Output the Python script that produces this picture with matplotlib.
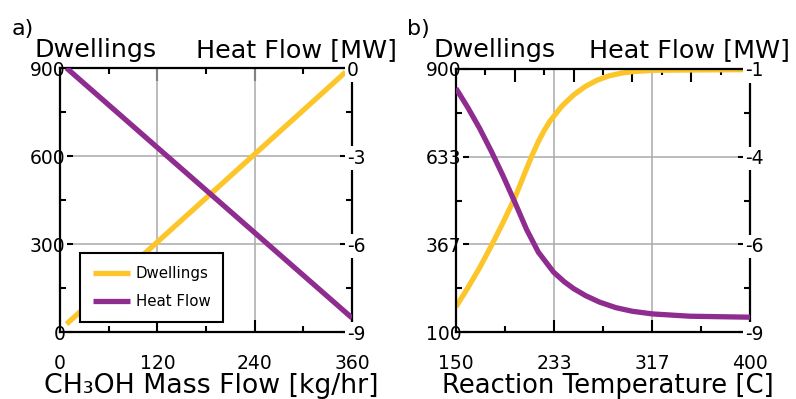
import matplotlib
matplotlib.use('Agg')
from matplotlib import pyplot as plt
from matplotlib import transforms
from matplotlib.ticker import FixedLocator, FixedFormatter, NullFormatter

plt.rcParams['font.family'] = ['DejaVu Sans']

YELLOW = '#fcc62a'
PURPLE = '#8e2c90'
GRID = '#a9a9a9'

# panel a: CH3OH mass flow sweep
flow_dw = [8, 352]
dwell_a = [27, 886]
flow_hf = [8, 360]
heat_a = [0.0, -8.52]

# panel b: reaction temperature sweep
temp_dw = [150, 160, 170, 180, 190, 200, 205, 210, 215, 220, 225, 230, 240, 250,
           260, 270, 280, 290, 300, 317, 349, 396]
dwell_b = [177, 234, 295, 362, 433, 508, 552, 597, 640, 679, 713, 742, 787, 821,
           847, 866, 879, 887, 892, 896, 897, 898]
temp_hf = [150, 160, 170, 180, 190, 200, 210, 220, 233, 242, 250, 260, 272, 286,
           300, 317, 349, 400]
heat_b = [-1.59, -2.17, -2.80, -3.50, -4.25, -5.05, -5.88, -6.57, -7.18, -7.47,
          -7.68, -7.89, -8.09, -8.26, -8.37, -8.45, -8.52, -8.55]

xt_a = [0, 120, 240, 360]
xt_a_minor = [60, 180, 300]
yt_a = [0, 300, 600, 900]
yt_a_minor = [150, 450, 750]
y2t_a = [-9, -6, -3, 0]
y2t_a_minor = [-7.5, -4.5, -1.5]

xt_b = [150, 233.33, 316.67, 400]
xl_b = ['150', '233', '317', '400']
xt_b_minor = [191.67, 275, 358.33]
yt_b = [100, 366.67, 633.33, 900]
yl_b = ['100', '367', '633', '900']
yt_b_minor = [233.33, 500, 766.67]
y2t_b = [-9, -6.333, -3.667, -1]
y2l_b = ['-9', '-6', '-4', '-1']
y2t_b_minor = [-7.667, -5, -2.333]

WHITE_BOX = dict(facecolor='white', edgecolor='none', pad=1.5)


def style(fig, ax, ax2, xlim, ylim, y2lim, xt, xl, xtm, yt, yl, ytm, y2t, y2l, y2tm,
          top_major, top_minor, xlabel, xlabel_size, title_l, title_r):
    ax.set_xlim(xlim)
    ax.set_ylim(ylim)
    ax2.set_ylim(y2lim)
    ax.xaxis.set_major_locator(FixedLocator(xt))
    ax.xaxis.set_major_formatter(FixedFormatter(xl))
    ax.xaxis.set_minor_locator(FixedLocator(xtm))
    ax.yaxis.set_major_locator(FixedLocator(yt))
    ax.yaxis.set_major_formatter(FixedFormatter(yl))
    ax.yaxis.set_minor_locator(FixedLocator(ytm))
    ax2.yaxis.set_major_locator(FixedLocator(y2t))
    ax2.yaxis.set_major_formatter(FixedFormatter(y2l))
    ax2.yaxis.set_minor_locator(FixedLocator(y2tm))
    ax.grid(True, which='major', color=GRID, lw=1.1)
    ax.set_axisbelow(True)

    for a in (ax, ax2):
        a.tick_params(which='major', direction='in', length=9, width=1.5, labelsize=13.5)
        a.tick_params(which='minor', direction='in', length=4.5, width=1.5)
    ax.tick_params(axis='x', pad=15.5)
    ax.tick_params(axis='y', pad=-3.8)
    ax2.tick_params(axis='y', pad=-3.8)
    # y tick labels sit on the spine with a white backing
    for t in ax.get_yticklabels() + ax2.get_yticklabels():
        t.set_bbox(WHITE_BOX)

    sec = ax.secondary_xaxis('top')
    sec.xaxis.set_major_locator(FixedLocator(top_major))
    sec.xaxis.set_minor_locator(FixedLocator(top_minor))
    sec.xaxis.set_major_formatter(NullFormatter())
    sec.tick_params(which='major', direction='in', length=9, width=1.5)
    sec.tick_params(which='minor', direction='in', length=4.5, width=1.5)
    for s in sec.spines.values():
        s.set_visible(False)
    for s in ax2.spines.values():
        s.set_visible(False)
    for s in ax.spines.values():
        s.set_linewidth(1.6)

    tr = transforms.blended_transform_factory(ax.transAxes, fig.transFigure)
    ax.text(0.517, 1 - 393 / 399, xlabel, transform=tr, fontsize=xlabel_size,
            ha='center', va='baseline')
    ax.text(title_l, 1 - 57 / 399, 'Dwellings', transform=tr, fontsize=18.3,
            ha='left', va='baseline')
    ax.text(title_r, 1 - 57 / 399, 'Heat Flow [MW]', transform=tr, fontsize=18.3,
            ha='right', va='baseline')


fig = plt.figure(figsize=(7.96, 3.99), dpi=100)
axa = fig.add_axes([60 / 796, 67 / 399, 292 / 796, 264 / 399])
axb = fig.add_axes([456 / 796, 67 / 399, 294 / 796, 263 / 399])

axa2 = axa.twinx()
l1, = axa.plot(flow_dw, dwell_a, color=YELLOW, lw=3.8, solid_capstyle='butt', label='Dwellings')
l2, = axa2.plot(flow_hf, heat_a, color=PURPLE, lw=3.8, solid_capstyle='butt', label='Heat Flow')
style(fig, axa, axa2, (0, 360), (0, 900), (-9, 0), xt_a, [str(v) for v in xt_a], xt_a_minor,
      yt_a, [str(v) for v in yt_a], yt_a_minor, y2t_a, [str(v) for v in y2t_a], y2t_a_minor,
      xt_a, xt_a_minor, 'CH\u2083OH Mass Flow [kg/hr]', 19.3,
      -25 / 292, 337 / 292)
leg = axa2.legend(handles=[l1, l2], loc='lower left', bbox_to_anchor=(20 / 292, 10 / 264),
                  borderaxespad=0, fontsize=10.8, fancybox=False, framealpha=1,
                  edgecolor='black', handlelength=2.5, handletextpad=0.35,
                  borderpad=0.85, labelspacing=0.9)
leg.get_frame().set_linewidth(1.5)

axb2 = axb.twinx()
axb.plot(temp_dw, dwell_b, color=YELLOW, lw=3.8, solid_capstyle='butt')
axb2.plot(temp_hf, heat_b, color=PURPLE, lw=3.8, solid_capstyle='butt')
style(fig, axb, axb2, (150, 400), (100, 900), (-9, -1), xt_b, xl_b, xt_b_minor,
      yt_b, yl_b, yt_b_minor, y2t_b, y2l_b, y2t_b_minor,
      [150, 200, 250, 300, 350, 400], [175, 225, 275, 325, 375],
      'Reaction Temperature [C]', 18.6, -23 / 294, 334 / 294)

fig.text(12 / 796, 1 - 35 / 399, 'a)', fontsize=16, va='baseline')
fig.text(407 / 796, 1 - 35 / 399, 'b)', fontsize=16, va='baseline')

fig.savefig('out.png', dpi=100)
